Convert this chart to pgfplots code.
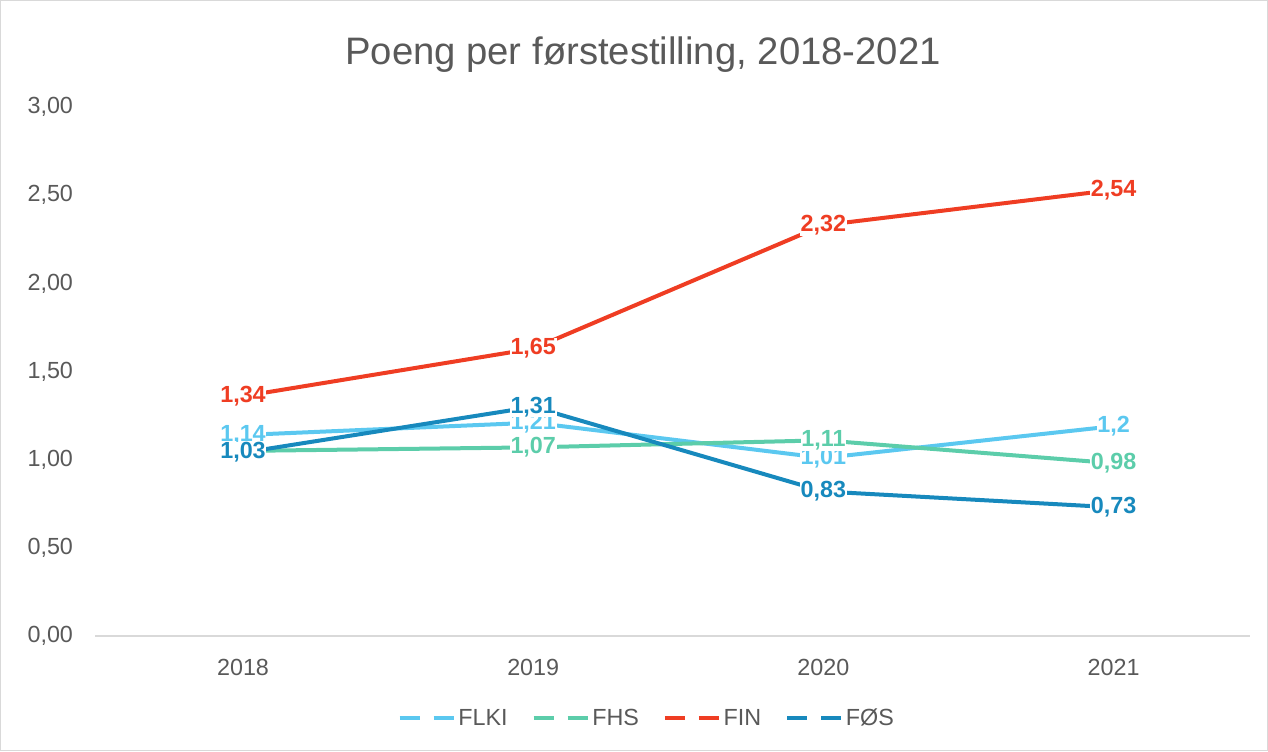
\documentclass[border=0pt]{standalone}
\usepackage{pgfplots}
\pgfplotsset{compat=1.18}
\usepackage{fontspec}
\setmainfont{Liberation Sans}
\definecolor{cFLKI}{HTML}{5BC8F0}
\definecolor{cFHS}{HTML}{5CCDAA}
\definecolor{cFIN}{HTML}{EF3D23}
\definecolor{cFOS}{HTML}{1789BD}
\definecolor{txt}{HTML}{595959}
\definecolor{axl}{HTML}{D9D9D9}
\begin{document}
\begin{tikzpicture}
\draw[draw=axl,line width=0.75pt] (0.375pt,0.375pt) rectangle (950.6pt,562.9pt);
\node[text=txt,font=\fontsize{28.7}{32}\selectfont] at (482.25pt,522pt) {Poeng per førstestilling, 2018-2021};
\begin{axis}[
  set layers, mark layer=axis foreground,
  at={(71.25pt,86.25pt)}, anchor=south west,
  scale only axis, width=866.25pt, height=396.75pt,
  xmin=-0.51, xmax=3.47, ymin=0, ymax=3,
  xtick={0,1,2,3}, xticklabels={2018,2019,2020,2021},
  ytick={0,0.5,1,1.5,2,2.5,3},
  axis x line*=bottom, axis y line*=left,
  x axis line style={draw=axl,line width=1pt,-},
  y axis line style={draw=none},
  major tick length=0pt,
  tick label style={text=txt,font=\fontsize{17.5}{20}\selectfont},
  xticklabel style={yshift=-13.5pt},
  /pgf/number format/.cd, use comma, fixed, fixed zerofill, precision=2, assume math mode=true,
  /pgfplots/.cd,
  yticklabel style={xshift=-13pt},
  clip=false,
  every axis plot/.append style={line width=3pt},
  nodes near coords,
  point meta=explicit symbolic,
  every node near coord/.append style={anchor=center, fill=white, inner sep=0.5pt, font=\bfseries\fontsize{17.5}{19}\selectfont},
  legend style={at={(0.478,-0.155)}, anchor=center, draw=none, fill=none, legend columns=-1,
    font=\fontsize{17.5}{20}\selectfont, text=txt,
    /tikz/every even column/.append style={column sep=16pt}},
  legend image code/.code={\draw[#1, line width=3pt, dash pattern=on 15pt off 10.5pt] (0pt,0pt) -- (40.5pt,0pt);},
]
\addplot[cFLKI, every node near coord/.append style={text=cFLKI}] coordinates {(0,1.14) [1,14] (1,1.21) [1,21] (2,1.01) [1,01] (3,1.19) [1,2]};
\addlegendentry{FLKI}
\addplot[cFHS, every node near coord/.append style={text=cFHS}] coordinates {(0,1.05) [] (1,1.07) [1,07] (2,1.11) [1,11] (3,0.98) [0,98]};
\addlegendentry{FHS}
\addplot[cFIN, every node near coord/.append style={text=cFIN}] coordinates {(0,1.36) [1,34] (1,1.63) [1,65] (2,2.33) [2,32] (3,2.53) [2,54]};
\addlegendentry{FIN}
\addplot[cFOS, every node near coord/.append style={text=cFOS}] coordinates {(0,1.04) [1,03] (1,1.30) [1,31] (2,0.82) [0,83] (3,0.73) [0,73]};
\addlegendentry{FØS}
\end{axis}
\end{tikzpicture}
\end{document}
